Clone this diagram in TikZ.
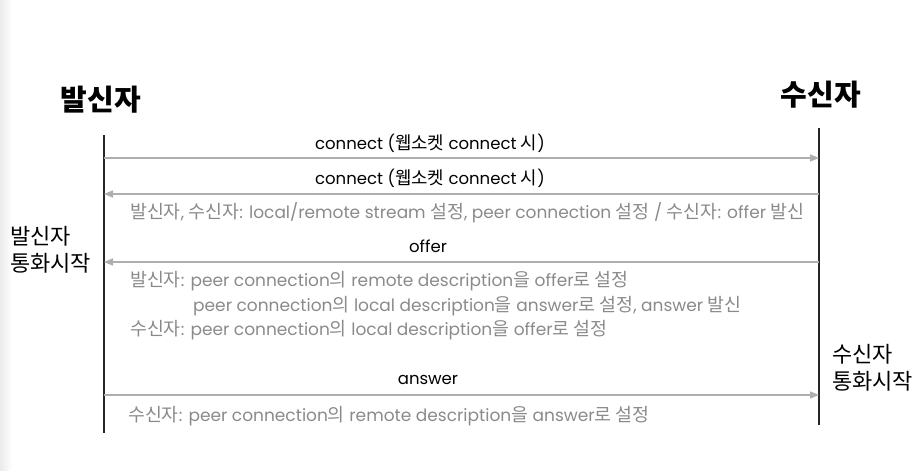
\documentclass[tikz,border=0pt]{standalone}
\usepackage{fontspec}
\setmainfont{Poppins}
\newfontfamily\ko{Noto Sans CJK KR}[Scale=1.08]
\newfontfamily\kot{Noto Sans CJK KR}
\usetikzlibrary{arrows.meta}
\definecolor{arrgray}{HTML}{AEAEAE}
\definecolor{txtgray}{HTML}{8A8A8A}
\tikzset{
  lifeline/.style={draw=black!85, line width=1.5pt},
  msg/.style={draw=arrgray, line width=1.5pt, -{Triangle[length=9pt,width=7pt]}},
  msglabel/.style={font=\fontsize{16.5}{19}\selectfont, text=black, inner sep=0pt},
  note/.style={font=\fontsize{17}{20}\selectfont, text=txtgray, inner sep=0pt, anchor=west},
  title/.style={font=\kot\bfseries\fontsize{29}{34}\selectfont, inner sep=0pt},
  side/.style={font=\kot\fontsize{22}{27}\selectfont, inner sep=0pt, align=left, anchor=west}
}
\begin{document}
\begin{tikzpicture}[x=1pt,y=-1pt]
\useasboundingbox (0,0) rectangle (924,471);
\shade[left color=black!8, right color=white] (0,0) rectangle (12,471);
% titles
\node[title] (snd) at (101,100) {발신자};
\node[title] (rcv) at (821,95) {수신자};
% lifelines
\coordinate (sTop) at (104,135);
\coordinate (sBot) at (104,433);
\coordinate (rTop) at (819,128);
\coordinate (rBot) at (819,425);
\draw[lifeline] (sTop) -- (sBot);
\draw[lifeline] (rTop) -- (rBot);
% message endpoints
\coordinate (s1) at (104,158); \coordinate (r1) at (819,158);
\coordinate (s2) at (104,194); \coordinate (r2) at (819,194);
\coordinate (s3) at (104,262); \coordinate (r3) at (819,262);
\coordinate (s4) at (104,395); \coordinate (r4) at (819,395);
\draw[msg] (s1) -- (r1);
\draw[msg] (r2) -- (s2);
\draw[msg] (r3) -- (s3);
\draw[msg] (s4) -- (r4);
% labels
\node[msglabel] (l1) at (430,143) {connect ({\ko 웹소켓} connect {\ko 시})};
\node[msglabel] (l2) at (430,178) {connect ({\ko 웹소켓} connect {\ko 시})};
\node[msglabel] (l3) at (428,246) {offer};
\node[msglabel] (l4) at (428,380) {answer};
% notes
\node[note] (n1) at (130,213) {{\ko 발신자}, {\ko 수신자}: local/remote stream {\ko 설정}, peer connection {\ko 설정} / {\ko 수신자}: offer {\ko 발신}};
\node[note] (n2) at (130,281) {{\ko 발신자}: peer connection{\ko 의} remote description{\ko 을} offer{\ko 로 설정}};
\node[note] (n3) at (193,306) {peer connection{\ko 의} local description{\ko 을} answer{\ko 로 설정}, answer {\ko 발신}};
\node[note] (n4) at (130,330) {{\ko 수신자}: peer connection{\ko 의} local description{\ko 을} offer{\ko 로 설정}};
\node[note] (n5) at (128,416) {{\ko 수신자}: peer connection{\ko 의} remote description{\ko 을} answer{\ko 로 설정}};
% side labels
\node[side] (sideS) at (10,250) {발신자\\통화시작};
\node[side] (sideR) at (832,368) {수신자\\통화시작};
\end{tikzpicture}
\end{document}
